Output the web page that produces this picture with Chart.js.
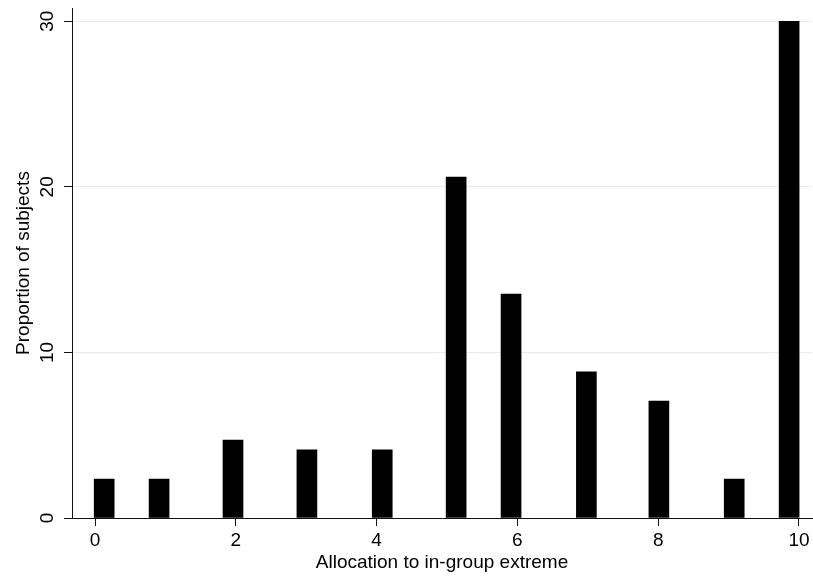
<!DOCTYPE html>
<html><head><meta charset="utf-8">
<script src="https://cdn.jsdelivr.net/npm/chart.js@4/dist/chart.umd.min.js"></script>
<style>html,body{margin:0;padding:0;background:#fff}#wrap{width:813px;height:578px}</style>
</head><body><div id="wrap"><canvas id="c" width="813" height="578"></canvas></div>
<script>
// Allocation values (categories) and where each histogram bar sits on the x scale
const allocations = [0, 1, 2, 3, 4, 5, 6, 7, 8, 9, 10];
const binCenters = [0.13, 0.91, 1.96, 3.01, 4.08, 5.13, 5.91, 6.98, 8.01, 9.08, 9.86];
// Proportion of subjects (%)
const proportions = [2.35, 2.35, 4.71, 4.12, 4.12, 20.59, 13.53, 8.82, 7.06, 2.35, 30.0];
const xTickValues = [0, 2, 4, 6, 8, 10];
const yTickValues = [0, 10, 20, 30];
const xTitle = 'Allocation to in-group extreme';
const yTitle = 'Proportion of subjects';

const FONT = '"Liberation Sans", Arial, Helvetica, sans-serif';

new Chart(document.getElementById('c'), {
  type: 'bar',
  data: {
    datasets: [{
      label: 'Proportion of subjects',
      data: binCenters.map((x, i) => ({x: x, y: proportions[i], a: allocations[i]})),
      backgroundColor: '#000',
      borderWidth: 0,
      barThickness: 20
    }]
  },
  options: {
    responsive: false,
    devicePixelRatio: 1,
    animation: false,
    layout: {padding: {top: 8, right: 1, left: 0, bottom: 0}},
    plugins: {legend: {display: false}, tooltip: {enabled: false}},
    scales: {
      x: {
        type: 'linear',
        offset: false,
        min: -0.327,
        max: 10.185,
        afterBuildTicks: s => { s.ticks = xTickValues.map(v => ({value: v})); },
        afterFit: s => { s.height = 60; s.paddingLeft = 0; s.paddingRight = 0; },
        grid: {offset: false, drawOnChartArea: false, drawTicks: true, tickLength: 8, tickColor: '#111', tickWidth: 1},
        border: {display: true, color: '#111', width: 1},
        ticks: {color: '#000', padding: 3, maxRotation: 0, font: {family: FONT, size: 19}},
        title: {display: true, text: xTitle, color: '#000', padding: {top: 0, bottom: 4}, font: {family: FONT, size: 19}}
      },
      y: {
        type: 'linear',
        min: 0,
        max: 30.8,
        afterBuildTicks: s => { s.ticks = yTickValues.map(v => ({value: v})); },
        afterFit: s => { s.width = 72; s.paddingTop = 0; s.paddingBottom = 0; },
        grid: {
          drawTicks: true, tickLength: 8, tickColor: '#111', tickWidth: 1,
          color: ctx => (ctx.tick && ctx.tick.value === 0) ? 'rgba(0,0,0,0)' : '#e4ecef',
          lineWidth: 1
        },
        border: {display: true, color: '#111', width: 1},
        ticks: {color: '#000', padding: 6, minRotation: 90, maxRotation: 90, crossAlign: 'center', font: {family: FONT, size: 19}},
        title: {display: true, text: yTitle, color: '#000', padding: {top: 12, bottom: 0}, font: {family: FONT, size: 19}}
      }
    }
  }
});
</script></body></html>
